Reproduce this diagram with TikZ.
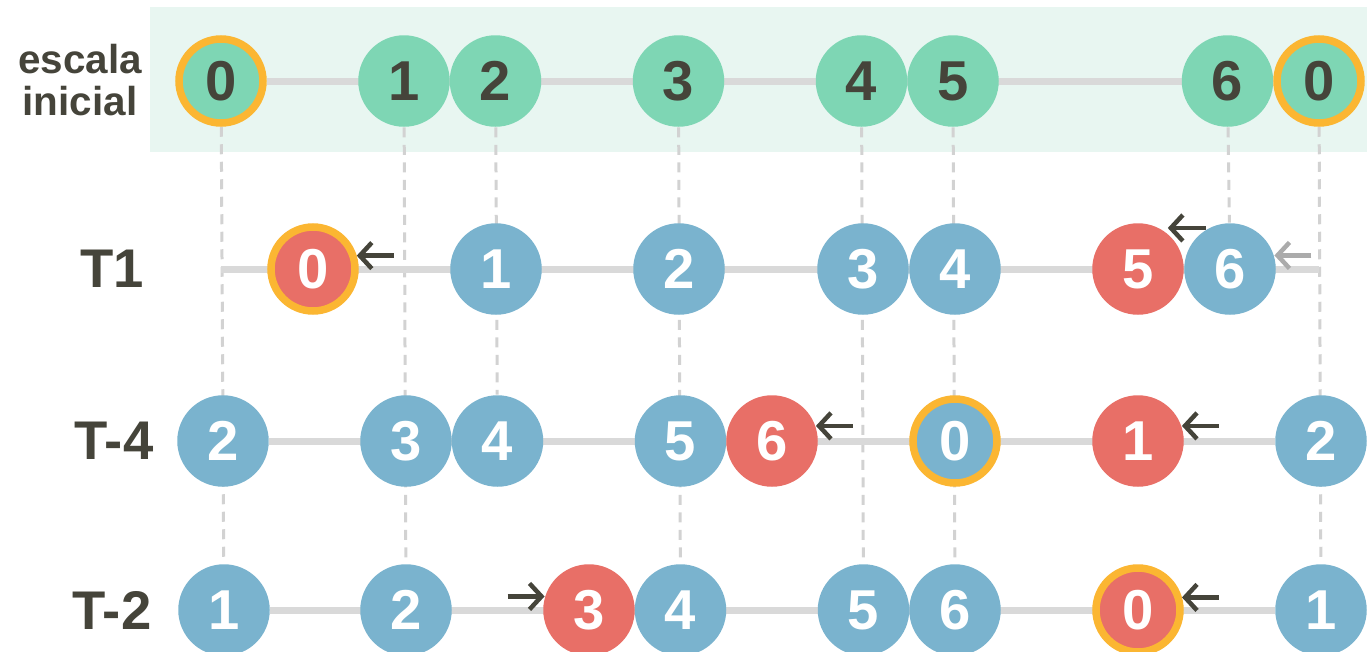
\documentclass[tikz,border=0pt]{standalone}
\usepackage{fontspec}
\setmainfont{Liberation Sans}
\usetikzlibrary{arrows.meta, backgrounds}
\definecolor{ink}{HTML}{45443A}
\definecolor{bandGreen}{HTML}{E8F6F1}
\definecolor{toneGreen}{HTML}{7ED6B4}
\definecolor{toneBlue}{HTML}{7AB3CE}
\definecolor{toneRed}{HTML}{E86F67}
\definecolor{ringOrange}{HTML}{FBB632}
\definecolor{railGray}{HTML}{D9D9D9}
\definecolor{guideGray}{HTML}{D2D2D2}
\definecolor{hintGray}{HTML}{ABABAB}
\tikzset{
  tone/.style={circle, fill=#1, minimum size=0.915cm, inner sep=0pt,
               font=\fontsize{16}{16}\selectfont\bfseries, text=white},
  first/.style={tone=toneGreen, text=ink},
  pc/.style={tone=toneBlue},
  moved/.style={tone=toneRed},
  root/.style={draw=ringOrange, line width=0.075cm, minimum size=0.84cm},
  rail/.style={draw=railGray, line width=0.07cm},
  guide/.style={draw=guideGray, line width=0.03cm, dash pattern=on 0.1cm off 0.075cm},
  back/.style={-{Straight Barb[length=1.2mm,width=2.6mm]}, line width=0.045cm, draw=ink},
  rowlabel/.style={font=\fontsize{15.5}{15.5}\selectfont\bfseries, text=ink},
}

\begin{document}
\begin{tikzpicture}
\useasboundingbox (0,0) rectangle (13.67,-6.52);

% row labels
\node[rowlabel, align=center, font=\fontsize{11.5}{12}\selectfont\bfseries] (lini) at (0.80,-0.80) {escala\\inicial};
\node[rowlabel] (lt1) at (1.12,-2.69) {T1};
\node[rowlabel] (lt4) at (1.14,-4.41) {T-4};
\node[rowlabel] (lt2) at (1.12,-6.10) {T-2};

% escala inicial
\node[first, root] (ini0) at (2.21,-0.81) {0};
\node[first] (ini1) at (4.04,-0.81) {1};
\node[first] (ini2) at (4.955,-0.81) {2};
\node[first] (ini3) at (6.785,-0.81) {3};
\node[first] (ini4) at (8.615,-0.81) {4};
\node[first] (ini5) at (9.53,-0.81) {5};
\node[first] (ini6) at (12.275,-0.81) {6};
\node[first, root] (ini0r) at (13.19,-0.81) {0};

% T1
\coordinate (t1l) at (2.21,-2.69);
\coordinate (t1r) at (13.19,-2.69);
\node[moved, root] (t1n0) at (3.13,-2.69) {0};
\node[pc] (t1n1) at (4.96,-2.69) {1};
\node[pc] (t1n2) at (6.79,-2.69) {2};
\node[pc] (t1n3) at (8.63,-2.69) {3};
\node[pc] (t1n4) at (9.55,-2.69) {4};
\node[moved] (t1n5) at (11.38,-2.69) {5};
\node[pc] (t1n6) at (12.30,-2.69) {6};

% T-4
\node[pc] (t4n2) at (2.23,-4.41) {2};
\node[pc] (t4n3) at (4.06,-4.41) {3};
\node[pc] (t4n4) at (4.975,-4.41) {4};
\node[pc] (t4n5) at (6.805,-4.41) {5};
\node[moved] (t4n6) at (7.72,-4.41) {6};
\node[pc, root] (t4n0) at (9.55,-4.41) {0};
\node[moved] (t4n1) at (11.38,-4.41) {1};
\node[pc] (t4n2r) at (13.21,-4.41) {2};

% T-2
\node[pc] (t2n1) at (2.24,-6.10) {1};
\node[pc] (t2n2) at (4.06,-6.10) {2};
\node[moved] (t2n3) at (5.89,-6.10) {3};
\node[pc] (t2n4) at (6.805,-6.10) {4};
\node[pc] (t2n5) at (8.635,-6.10) {5};
\node[pc] (t2n6) at (9.55,-6.10) {6};
\node[moved, root] (t2n0) at (11.38,-6.10) {0};
\node[pc] (t2n1r) at (13.21,-6.10) {1};

\begin{scope}[on background layer]
\fill[bandGreen] (1.50,-0.07) rectangle (13.67,-1.52);
\draw[guide] (ini0) -- (t2n1);
\draw[guide] (ini1) -- (t2n2);
\draw[guide] (ini2) -- (t4n4);
\draw[guide] (ini3) -- (t2n4);
\draw[guide] (ini4) -- (t2n5);
\draw[guide] (ini5) -- (t2n6);
\draw[guide] (ini6) -- (t1n6);
\draw[guide] (ini0r) -- (t2n1r);
\draw[rail] (ini0) -- (ini0r);
\draw[rail] (t1l) -- (t1r);
\draw[rail] (t4n2) -- (t4n2r);
\draw[rail] (t2n1) -- (t2n1r);
\end{scope}

% shifts
\draw[back] ([xshift=3.7mm]t1n0.17) -- (t1n0.17);
\draw[back] ([xshift=4.6mm]t1n5.62) -- ([xshift=0.8mm]t1n5.62);
\draw[back, draw=hintGray] ([xshift=3.7mm]t1n6.17) -- (t1n6.17);
\draw[back] ([xshift=3.7mm]t4n6.19) -- (t4n6.19);
\draw[back] ([xshift=3.7mm]t4n1.19) -- (t4n1.19);
\draw[back] ([xshift=-3.7mm]t2n3.163) -- (t2n3.163);
\draw[back] ([xshift=3.7mm]t2n0.16) -- (t2n0.16);
\end{tikzpicture}
\end{document}
